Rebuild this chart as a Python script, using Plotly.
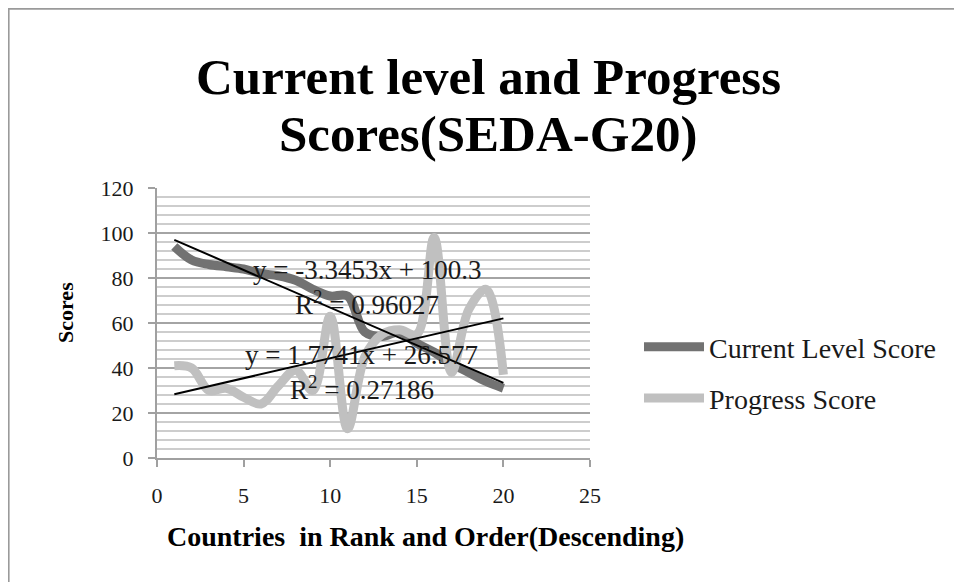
import plotly.graph_objects as go

# ---- data ----
rank = list(range(1, 21))
current_level = [94, 88, 86, 85, 84, 82, 81, 79, 75, 72, 72, 56, 54, 56, 51, 47, 42, 38, 34, 31]
progress = [41, 40, 30, 31, 27, 24, 32, 39, 30, 63, 13, 45, 55, 57, 55, 98, 38, 66, 75, 37]
trend_current = [-3.3453, 100.3]     # slope, intercept
trend_progress = [1.7741, 26.577]
trend_x = [1, 20]
x_ticks = [0, 5, 10, 15, 20, 25]
y_ticks = [0, 20, 40, 60, 80, 100, 120]
eq_current = ["y = -3.3453x + 100.3", "R<sup>2</sup> = 0.96027"]
eq_progress = ["y = 1.7741x + 26.577", "R<sup>2</sup> = 0.27186"]
title_lines = ["Current level and Progress", "Scores(SEDA-G20)"]
x_title = "Countries  in Rank and Order(Descending)"
y_title = "Scores"

FONT = "Liberation Serif"
W, H = 962, 582
OFF = 8                      # page body margin offset
# plot area measured in the screenshot (page pixels)
L, R, T, B = 157, 590, 188, 458


def px_x(p):
    return (p - L) / (R - L)


def px_y(p):
    return (B - p) / (B - T)


fig = go.Figure()

fig.add_trace(go.Scatter(
    x=rank, y=current_level, mode="lines", name="Current Level Score",
    line=dict(color="#727272", width=9, shape="spline", smoothing=1.0),
    legendgroup="a",
))
fig.add_trace(go.Scatter(
    x=rank, y=progress, mode="lines", name="Progress Score",
    line=dict(color="#c0c0c0", width=9, shape="spline", smoothing=1.0),
    legendgroup="b",
))

for m, b in (trend_current, trend_progress):
    fig.add_trace(go.Scatter(
        x=trend_x, y=[m * xx + b for xx in trend_x], mode="lines",
        line=dict(color="black", width=2), showlegend=False, hoverinfo="skip",
    ))

ann = []
for (txt, xx, cy) in [
    (eq_current[0], 12.1, 270), (eq_current[1], 12.1, 303),
    (eq_progress[0], 11.82, 355), (eq_progress[1], 11.85, 388),
]:
    ann.append(dict(text=txt, x=xx, y=(B - cy) / (B - T) * 120, xref="x", yref="y",
                    showarrow=False, font=dict(family=FONT, size=27, color="#1a1a1a")))

for txt, cy in zip(title_lines, (77, 134)):
    ann.append(dict(text="<b>" + txt + "</b>", x=px_x(488), y=px_y(cy),
                    xref="paper", yref="paper", xanchor="center", yanchor="middle",
                    showarrow=False, font=dict(family=FONT, size=51, color="black")))

# axis titles (placed where the reference has them)
ann.append(dict(text="<b>" + x_title + "</b>", x=px_x(425), y=px_y(536),
                xref="paper", yref="paper", xanchor="center", yanchor="middle",
                showarrow=False, font=dict(family=FONT, size=28, color="black")))
ann.append(dict(text="<b>" + y_title + "</b>", x=px_x(65), y=px_y(313),
                xref="paper", yref="paper", xanchor="center", yanchor="middle",
                textangle=-90, showarrow=False,
                font=dict(family=FONT, size=22, color="black")))

# chart border (left and top visible)
shapes = [dict(type="rect", xref="paper", yref="paper",
               x0=px_x(8.6), x1=px_x(9 + W), y0=px_y(9 + H), y1=px_y(8.8),
               line=dict(color="#9a9a9a", width=2), layer="below")]

fig.update_layout(
    width=W, height=H,
    margin=dict(l=L - OFF, r=W - (R - OFF), t=T - OFF, b=H - (B - OFF)),
    paper_bgcolor="white", plot_bgcolor="white",
    font=dict(family=FONT, size=22, color="#1a1a1a"),
    xaxis=dict(range=[0, 25], tickvals=x_ticks, showgrid=False, zeroline=False,
               automargin=False,
               showline=True, linecolor="#a0a0a0", linewidth=2,
               ticks="outside", ticklen=7, tickcolor="#a0a0a0", tickwidth=2,
               ticklabelstandoff=10,
               tickfont=dict(family=FONT, size=22, color="#1a1a1a")),
    yaxis=dict(range=[0, 120], tickvals=y_ticks, showgrid=True, gridcolor="#a4a4a4",
               gridwidth=2, zeroline=False, automargin=False,
               showline=True, linecolor="#a0a0a0", linewidth=2,
               ticks="outside", ticklen=7, tickcolor="#a0a0a0", tickwidth=2,
               ticklabelstandoff=10,
               tickfont=dict(family=FONT, size=22, color="#1a1a1a"),
               minor=dict(dtick=4, showgrid=True, gridcolor="#cdcdcd", gridwidth=2, ticks="")),
    legend=dict(x=px_x(639), y=px_y(322), xanchor="left", yanchor="top",
                font=dict(family=FONT, size=28, color="#1a1a1a"),
                itemwidth=60, tracegroupgap=12, bgcolor="rgba(0,0,0,0)"),
    annotations=ann,
    shapes=shapes,
)

fig.write_html("out.html")
